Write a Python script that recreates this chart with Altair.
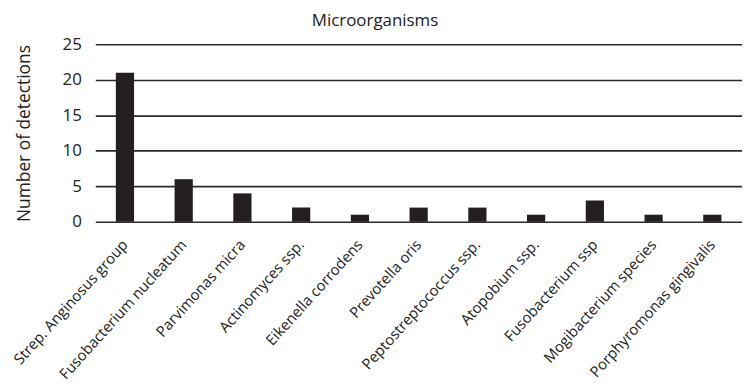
import altair as alt
import pandas as pd

organisms = [
    "Strep. Anginosus group",
    "Fusobacterium nucleatum",
    "Parvimonas micra",
    "Actinomyces ssp.",
    "Eikenella corrodens",
    "Prevotella oris",
    "Peptostreptococcus ssp.",
    "Atopobium ssp.",
    "Fusobacterium ssp",
    "Mogibacterium species",
    "Porphyromonas gingivalis",
]
detections = [21, 6, 4, 2, 1, 2, 2, 1, 3, 1, 1]
y_ticks = [0, 5, 10, 15, 20, 25]

df = pd.DataFrame({"organism": organisms, "detections": detections})

FONT = "Open Sans"

chart = (
    alt.Chart(df)
    .mark_bar(color="#231f20")
    .encode(
        x=alt.X(
            "organism:N",
            sort=organisms,
            scale=alt.Scale(paddingInner=0.69, paddingOuter=0.35),
            axis=alt.Axis(
                title=None,
                labelAngle=-48,
                labelAlign="right",
                labelBaseline="middle",
                labelFont=FONT,
                labelFontSize=15,
                labelColor="#222222",
                labelPadding=20,
                ticks=False,
                domain=False,
                labelOverlap=False,
                labelLimit=300,
            ),
        ),
        y=alt.Y(
            "detections:Q",
            scale=alt.Scale(domain=[0, 25], nice=False),
            axis=alt.Axis(
                title="Number of detections",
                titleFont=FONT,
                titleFontSize=17.5,
                titleFontWeight="normal",
                titleColor="#222222",
                titlePadding=29,
                values=y_ticks,
                labelFont=FONT,
                labelFontSize=17,
                labelColor="#222222",
                labelPadding=14,
                ticks=False,
                domain=False,
                grid=True,
                gridColor="#2a2a2a",
                gridWidth=1.6,
            ),
        ),
    )
    .properties(
        width=652,
        height=179,
        title=alt.TitleParams(
            "Microorganisms",
            font=FONT,
            fontSize=17,
            fontWeight="normal",
            color="#222222",
            anchor="middle",
            dx=-44,
            offset=5,
        ),
        autosize=alt.AutoSizeParams(type="none"),
        padding={"left": 88, "top": 35, "right": 0, "bottom": 164},
    )
    .configure_view(stroke=None)
)

chart.save("out.html", embed_options={"renderer": "svg", "actions": False})
